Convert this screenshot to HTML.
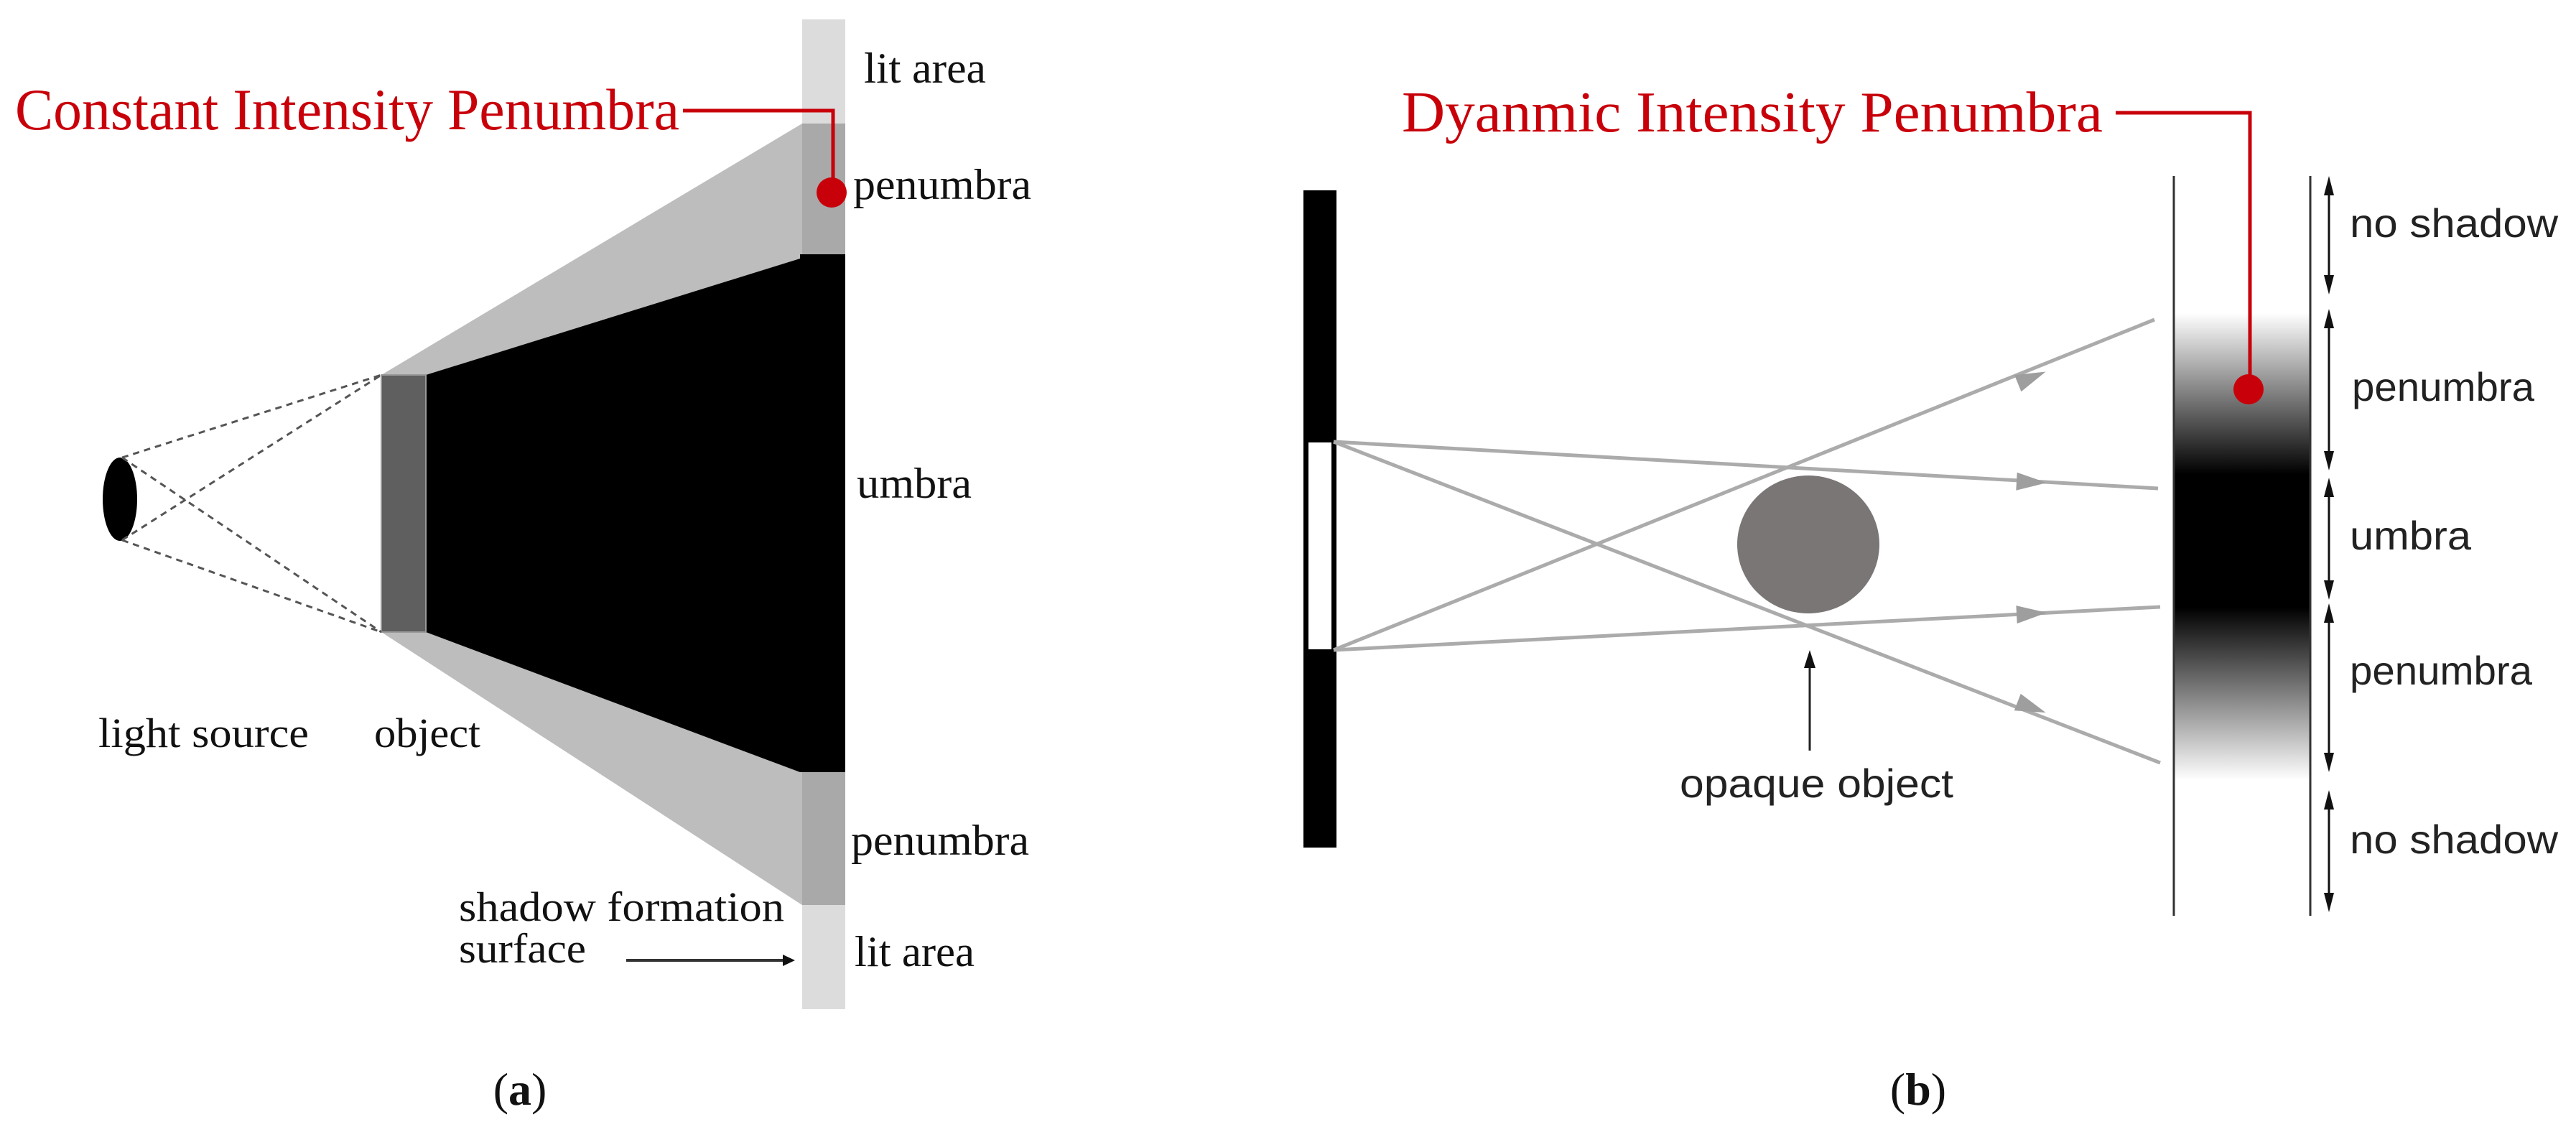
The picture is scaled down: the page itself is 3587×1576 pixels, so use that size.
<!DOCTYPE html>
<html><head><meta charset="utf-8"><style>
html,body{margin:0;padding:0;background:#fff;}
svg{display:block;}
.s{font-family:"Liberation Serif",serif;fill:#111;}
.ss{font-family:"Liberation Sans",sans-serif;fill:#222;}
</style></head><body>
<svg width="3587" height="1576" viewBox="0 0 3587 1576" xmlns="http://www.w3.org/2000/svg">
<defs>
<linearGradient id="g" x1="0" y1="0" x2="0" y2="1">
<stop offset="0" stop-color="#fff"/>
<stop offset="0.345" stop-color="#000"/>
<stop offset="0.63" stop-color="#000"/>
<stop offset="1" stop-color="#fff"/>
</linearGradient>
</defs>
<!-- LEFT PANEL -->
<rect x="1117" y="27" width="60" height="1378" fill="#dcdcdc"/>
<rect x="1117" y="172" width="60" height="182" fill="#a9a9a9"/>
<rect x="1117" y="1075" width="60" height="185" fill="#a9a9a9"/>
<polygon points="531,522 1117,172 1117,360 593,522" fill="#bdbdbd"/>
<polygon points="531,880 593,880 1117,1075 1117,1260" fill="#bdbdbd"/>
<polygon points="593,522 1114,360 1114,354 1177,354 1177,1075 1114,1075 593,880" fill="#000"/>
<rect x="531" y="522" width="62" height="358" fill="#5f5f5f" stroke="#999" stroke-width="2"/>
<ellipse cx="167" cy="695" rx="24" ry="58" fill="#000"/>
<g stroke="#555" stroke-width="3" stroke-dasharray="9,7" fill="none">
<line x1="170" y1="637" x2="531" y2="522"/>
<line x1="170" y1="637" x2="531" y2="880"/>
<line x1="170" y1="752" x2="531" y2="522"/>
<line x1="170" y1="752" x2="531" y2="880"/>
</g>
<text class="s" x="21" y="180" font-size="82" style="fill:#c8000a" textLength="925" lengthAdjust="spacingAndGlyphs">Constant Intensity Penumbra</text>
<polyline points="951,154 1160,154 1160,268" fill="none" stroke="#c8000a" stroke-width="5"/>
<circle cx="1158" cy="268" r="21" fill="#c8000a"/>
<text class="s" x="1203" y="115" font-size="60" textLength="170" lengthAdjust="spacingAndGlyphs">lit area</text>
<text class="s" x="1188" y="277" font-size="60" textLength="248" lengthAdjust="spacingAndGlyphs">penumbra</text>
<text class="s" x="1193" y="693" font-size="60" textLength="160" lengthAdjust="spacingAndGlyphs">umbra</text>
<text class="s" x="1185" y="1190" font-size="60" textLength="248" lengthAdjust="spacingAndGlyphs">penumbra</text>
<text class="s" x="1190" y="1345" font-size="60" textLength="167" lengthAdjust="spacingAndGlyphs">lit area</text>
<text class="s" x="137" y="1040" font-size="58" textLength="293" lengthAdjust="spacingAndGlyphs">light source</text>
<text class="s" x="521" y="1040" font-size="58" textLength="148" lengthAdjust="spacingAndGlyphs">object</text>
<text class="s" x="639" y="1282" font-size="58" textLength="453" lengthAdjust="spacingAndGlyphs">shadow formation</text>
<text class="s" x="639" y="1340" font-size="58" textLength="177" lengthAdjust="spacingAndGlyphs">surface</text>
<line x1="872" y1="1337" x2="1092" y2="1337" stroke="#333" stroke-width="4"/>
<polygon points="1107,1337 1090,1329 1090,1345" fill="#111"/>
<text class="s" x="724" y="1538" font-size="64" text-anchor="middle">(<tspan font-weight="bold">a</tspan>)</text>
<!-- RIGHT PANEL -->
<rect x="1815" y="265" width="46" height="915" fill="#000"/>
<rect x="1821" y="615" width="34" height="290" fill="#fff" stroke="#000" stroke-width="2"/>
<rect x="3027" y="436" width="190" height="650" fill="url(#g)"/>
<line x1="3027" y1="245" x2="3027" y2="1275" stroke="#333" stroke-width="3"/>
<line x1="3217" y1="245" x2="3217" y2="1275" stroke="#333" stroke-width="3"/>
<g stroke="#ababab" stroke-width="5">
<line x1="1857" y1="615" x2="3005" y2="680"/>
<line x1="1857" y1="615" x2="3008" y2="1062"/>
<line x1="1857" y1="905" x2="3000" y2="445"/>
<line x1="1857" y1="905" x2="3008" y2="845"/>
</g>
<g fill="#9e9e9e">
<polygon points="2850,671 2808,659 2808,684" transform="rotate(3.2 2830 671)"/>
<polygon points="2850,985 2808,973 2808,998" transform="rotate(21 2830 985)"/>
<polygon points="2850,525 2808,513 2808,538" transform="rotate(-21.9 2830 525)"/>
<polygon points="2850,854 2808,842 2808,867" transform="rotate(-3 2830 854)"/>
</g>
<ellipse cx="2518" cy="758" rx="99" ry="96" fill="#7a7676"/>
<line x1="2520" y1="1045" x2="2520" y2="925" stroke="#222" stroke-width="3"/>
<polygon points="2520,905 2512,930 2528,930" fill="#111"/>
<text class="ss" x="2339" y="1110" font-size="56" textLength="381" lengthAdjust="spacingAndGlyphs">opaque object</text>
<g stroke="#111" stroke-width="3">
<line x1="3243" y1="250" x2="3243" y2="405"/>
<line x1="3243" y1="435" x2="3243" y2="650"/>
<line x1="3243" y1="670" x2="3243" y2="830"/>
<line x1="3243" y1="845" x2="3243" y2="1070"/>
<line x1="3243" y1="1105" x2="3243" y2="1265"/>
</g>
<g fill="#111">
<polygon points="3243,245 3236,272 3250,272"/><polygon points="3243,410 3236,383 3250,383"/>
<polygon points="3243,430 3236,457 3250,457"/><polygon points="3243,655 3236,628 3250,628"/>
<polygon points="3243,665 3236,692 3250,692"/><polygon points="3243,835 3236,808 3250,808"/>
<polygon points="3243,840 3236,867 3250,867"/><polygon points="3243,1075 3236,1048 3250,1048"/>
<polygon points="3243,1100 3236,1127 3250,1127"/><polygon points="3243,1270 3236,1243 3250,1243"/>
</g>
<text class="ss" x="3272" y="330" font-size="56" textLength="290" lengthAdjust="spacingAndGlyphs">no shadow</text>
<text class="ss" x="3275" y="558" font-size="56" textLength="254" lengthAdjust="spacingAndGlyphs">penumbra</text>
<text class="ss" x="3272" y="765" font-size="56" textLength="169" lengthAdjust="spacingAndGlyphs">umbra</text>
<text class="ss" x="3272" y="953" font-size="56" textLength="254" lengthAdjust="spacingAndGlyphs">penumbra</text>
<text class="ss" x="3272" y="1188" font-size="56" textLength="290" lengthAdjust="spacingAndGlyphs">no shadow</text>
<text class="s" x="1952" y="183" font-size="80" style="fill:#c8000a" textLength="976" lengthAdjust="spacingAndGlyphs">Dyanmic Intensity Penumbra</text>
<polyline points="2946,157 3133,157 3133,540" fill="none" stroke="#c8000a" stroke-width="5"/>
<circle cx="3131" cy="542" r="21" fill="#c8000a"/>
<text class="s" x="2671" y="1538" font-size="64" text-anchor="middle">(<tspan font-weight="bold">b</tspan>)</text>
</svg>
</body></html>
